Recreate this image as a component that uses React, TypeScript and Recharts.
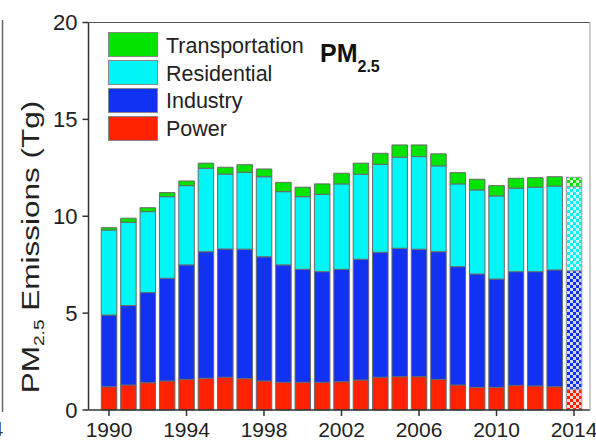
import React from "react";
import { BarChart, Bar, XAxis, YAxis, Cell } from "recharts";

// PM2.5 emissions by sector (Tg), 1990–2014; the 2014 bar is a projection
const years = [
  "1990", "1991", "1992", "1993", "1994", "1995", "1996", "1997", "1998", "1999",
  "2000", "2001", "2002", "2003", "2004", "2005", "2006", "2007", "2008", "2009",
  "2010", "2011", "2012", "2013", "2014",
];
const power = [
  1.2, 1.29, 1.41, 1.5, 1.58, 1.64, 1.69, 1.62, 1.5, 1.43,
  1.43, 1.43, 1.46, 1.55, 1.69, 1.72, 1.72, 1.58, 1.29, 1.17,
  1.17, 1.27, 1.24, 1.2, 1.07,
];
const industry = [
  3.7, 4.1, 4.65, 5.3, 5.91, 6.53, 6.62, 6.68, 6.41, 6.06,
  5.83, 5.71, 5.8, 6.23, 6.45, 6.63, 6.58, 6.59, 6.11, 5.85,
  5.59, 5.87, 5.9, 6.03, 6.12,
];
const residential = [
  4.39, 4.3, 4.18, 4.21, 4.09, 4.31, 3.87, 3.97, 4.13, 3.78,
  3.75, 3.99, 4.41, 4.39, 4.54, 4.7, 4.78, 4.43, 4.27, 4.34,
  4.29, 4.31, 4.36, 4.33, 4.34,
];
const transportation = [
  0.12, 0.21, 0.2, 0.21, 0.24, 0.26, 0.35, 0.39, 0.4, 0.48,
  0.49, 0.54, 0.55, 0.57, 0.57, 0.63, 0.6, 0.62, 0.58, 0.55,
  0.53, 0.51, 0.49, 0.48, 0.48,
];
const yTicks = [0, 5, 10, 15, 20];
const projectedYear = "2014";

const FONT = '"Liberation Sans", Arial, Helvetica, sans-serif';

const sectors = [
  { key: "power", name: "Power", color: "#ff2200" },
  { key: "industry", name: "Industry", color: "#1132f2" },
  { key: "residential", name: "Residential", color: "#00f6f6" },
  { key: "transportation", name: "Transportation", color: "#00e400" },
];

const data = years.map((year, i) => ({
  year,
  power: power[i],
  industry: industry[i],
  residential: residential[i],
  transportation: transportation[i],
}));

const STROKE = "#6a6a6a";

function CheckerPattern({ id, color }: { id: string; color: string }) {
  return (
    <pattern id={id} width={6} height={6} patternUnits="userSpaceOnUse">
      <rect width={6} height={6} fill={color} />
      <rect x={0} y={0} width={3} height={3} fill="#ffffff" opacity={0.8} />
      <rect x={3} y={3} width={3} height={3} fill="#ffffff" opacity={0.8} />
    </pattern>
  );
}

function Overlay() {
  const legendOrder = [...sectors].reverse();
  return (
    <svg
      width={596}
      height={442}
      style={{ position: "absolute", left: 0, top: 0, pointerEvents: "none" }}
    >
      {/* edge of the neighbouring panel */}
      <line x1={2.5} y1={20} x2={2.5} y2={412} stroke="#666" strokeWidth={1.5} />
      <text x={3} y={436} fontFamily={FONT} fontSize={20} fill="#333" textAnchor="end">
        4
      </text>

      {/* y-axis title */}
      <g transform="translate(39,247) rotate(-90) scale(1.37,1)">
        <text x={0} y={0} textAnchor="middle" fontFamily={FONT} fontSize={23} fill="#222">
          PM
          <tspan fontSize={14} dy={5}>2.5</tspan>
          <tspan dy={-5}> Emissions (Tg)</tspan>
        </text>
      </g>

      {/* legend */}
      {legendOrder.map((s, i) => (
        <g key={s.key}>
          <rect
            x={108.5}
            y={32.5 + i * 28}
            width={49}
            height={24}
            fill={s.color}
            stroke="#888"
            strokeWidth={1}
          />
          <text
            x={166}
            y={53 + i * 27.7}
            fontFamily={FONT}
            fontSize={21.5}
            fill="#222"
          >
            {s.name}
          </text>
        </g>
      ))}

      {/* panel title */}
      <text x={320} y={62} fontFamily={FONT} fontSize={25} fontWeight="bold" fill="#111">
        PM
        <tspan fontSize={16} dy={10}>2.5</tspan>
      </text>
    </svg>
  );
}

export default function App() {
  return (
    <div style={{ position: "absolute", left: 0, top: 0, width: 596, height: 442, background: "#fff" }}>
      <BarChart
        width={596}
        height={442}
        data={data}
        margin={{ top: 0, right: 0, bottom: 0, left: 0 }}
        barSize={15.5}
      >
        <defs>
          {sectors.map((s) => (
            <CheckerPattern key={s.key} id={`proj-${s.key}`} color={s.color} />
          ))}
        </defs>
        <XAxis
          xAxisId="bottom"
          dataKey="year"
          height={32}
          interval={3}
          tickSize={6}
          tickMargin={6}
          padding={{ left: 10.8, right: 6.3 }}
          axisLine={{ stroke: "#333", strokeWidth: 1.5 }}
          tickLine={{ stroke: "#333", strokeWidth: 1.5 }}
          tick={{ fill: "#222", fontSize: 21, fontFamily: FONT }}
        />
        <XAxis
          xAxisId="top"
          dataKey="year"
          orientation="top"
          height={22.5}
          tick={false}
          tickLine={false}
          axisLine={{ stroke: "#555", strokeWidth: 1.2 }}
        />
        <YAxis
          yAxisId="left"
          width={88.5}
          domain={[0, 20]}
          ticks={yTicks}
          tickSize={6}
          tickMargin={5}
          axisLine={{ stroke: "#333", strokeWidth: 1.5 }}
          tickLine={{ stroke: "#333", strokeWidth: 1.5 }}
          tick={{ fill: "#222", fontSize: 22, fontFamily: FONT }}
        />
        <YAxis
          yAxisId="right"
          orientation="right"
          width={6}
          domain={[0, 20]}
          tick={false}
          tickLine={false}
          axisLine={{ stroke: "#aaa", strokeWidth: 1.2 }}
        />
        {sectors.map((s) => (
          <Bar
            key={s.key}
            dataKey={s.key}
            name={s.name}
            stackId="total"
            xAxisId="bottom"
            yAxisId="left"
            fill={s.color}
            stroke={STROKE}
            strokeWidth={1}
            isAnimationActive={false}
          >
            {data.map((d) => (
              <Cell
                key={d.year}
                fill={d.year === projectedYear ? `url(#proj-${s.key})` : s.color}
                stroke={d.year === projectedYear ? "#999" : STROKE}
              />
            ))}
          </Bar>
        ))}
      </BarChart>
      <Overlay />
    </div>
  );
}
